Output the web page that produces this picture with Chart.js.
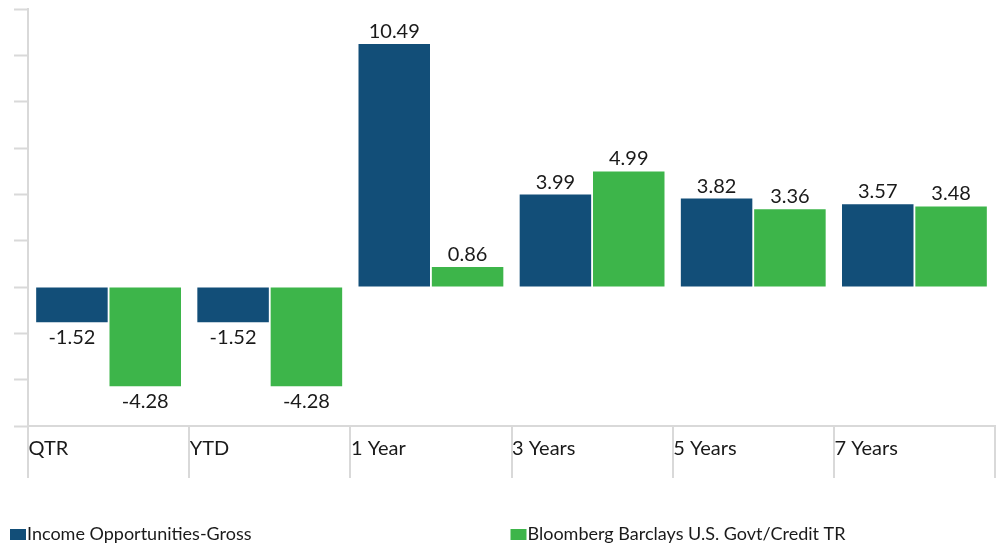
<!DOCTYPE html>
<html>
<head>
<meta charset="utf-8">
<script src="https://cdn.jsdelivr.net/npm/chart.js@4.4.1/dist/chart.umd.min.js"></script>
<style>
  html, body { margin: 0; padding: 0; background: #fff; }
  #wrap { position: relative; width: 1001px; height: 546px; }
</style>
</head>
<body>
<div id="wrap"><canvas id="c"></canvas></div>
<script>
const categories = ['QTR', 'YTD', '1 Year', '3 Years', '5 Years', '7 Years'];
const seriesNames = ['Income Opportunities-Gross', 'Bloomberg Barclays U.S. Govt/Credit TR'];
const incomeGross = [-1.52, -1.52, 10.49, 3.99, 3.82, 3.57];
const bloombergTR = [-4.28, -4.28, 0.86, 4.99, 3.36, 3.48];
const yMin = -6, yMax = 12, yStep = 2;

const seriesColors = ['#124E78', '#3DB54A'];
const FONT = 'Lato, "Open Sans", sans-serif';
const AXIS = '#d9d9d9';

const valueLabels = {
  id: 'valueLabels',
  afterDatasetsDraw(chart) {
    const ctx = chart.ctx;
    ctx.save();
    ctx.font = '20px ' + FONT;
    ctx.fillStyle = '#1a1a1a';
    ctx.textAlign = 'center';
    chart.data.datasets.forEach((ds, di) => {
      const meta = chart.getDatasetMeta(di);
      meta.data.forEach((bar, i) => {
        const v = ds.data[i];
        const txt = v.toFixed(2);
        if (v >= 0) {
          ctx.textBaseline = 'alphabetic';
          ctx.fillText(txt, bar.x, bar.y - 6);
        } else {
          ctx.textBaseline = 'top';
          ctx.fillText(txt, bar.x, bar.y + 5);
        }
      });
    });
    ctx.restore();
  }
};

// extends the category separators below the x axis, from the scale's own tick positions
const categorySeparators = {
  id: 'categorySeparators',
  afterDraw(chart) {
    const xs = chart.scales.x;
    const ctx = chart.ctx;
    const n = xs.ticks.length;
    const half = (xs.getPixelForTick(1) - xs.getPixelForTick(0)) / 2;
    ctx.save();
    ctx.strokeStyle = AXIS;
    ctx.lineWidth = 2;
    ctx.beginPath();
    for (let i = 0; i <= n; i++) {
      const x = Math.round((i < n ? xs.getPixelForTick(i) - half : xs.getPixelForTick(n - 1) + half));
      ctx.moveTo(x, chart.chartArea.bottom);
      ctx.lineTo(x, chart.chartArea.bottom + 52);
    }
    ctx.stroke();
    ctx.restore();
  }
};

const bottomLegend = {
  id: 'bottomLegend',
  afterDraw(chart) {
    const ctx = chart.ctx;
    ctx.save();
    ctx.font = '18px ' + FONT;
    ctx.textBaseline = 'middle';
    ctx.textAlign = 'left';
    const y = 534;
    chart.data.datasets.forEach((ds, i) => {
      const x = 10 + i * (chart.width / 2);
      ctx.fillStyle = ds.backgroundColor;
      ctx.fillRect(x, y - 5, 16, 11);
      ctx.fillStyle = '#1a1a1a';
      ctx.fillText(ds.label, x + 17, y);
    });
    ctx.restore();
  }
};

new Chart(document.getElementById('c'), {
  type: 'bar',
  data: {
    labels: categories,
    datasets: [
      { label: seriesNames[0], data: incomeGross, backgroundColor: seriesColors[0],
        categoryPercentage: 0.91, barPercentage: 0.975 },
      { label: seriesNames[1], data: bloombergTR, backgroundColor: seriesColors[1],
        categoryPercentage: 0.91, barPercentage: 0.975 }
    ]
  },
  options: {
    responsive: true,
    maintainAspectRatio: false,
    animation: false,
    layout: { padding: { left: 14, top: 9, right: 6, bottom: 82 } },
    plugins: { legend: { display: false }, tooltip: { enabled: false } },
    scales: {
      x: {
        offset: true,
        grid: { offset: true, drawOnChartArea: false, drawTicks: true, tickLength: 8,
                color: AXIS, tickColor: 'rgba(0,0,0,0)', lineWidth: 2, tickWidth: 2 },
        border: { display: true, color: AXIS, width: 2 },
        ticks: { align: 'start', labelOffset: -80, padding: 3, color: '#1a1a1a',
                 font: { family: FONT, size: 20 }, maxRotation: 0, autoSkip: false }
      },
      y: {
        min: yMin, max: yMax,
        grid: { drawOnChartArea: false, drawTicks: true, tickLength: 14,
                color: AXIS, tickColor: AXIS, tickWidth: 2 },
        border: { display: true, color: AXIS, width: 2 },
        ticks: { display: false, stepSize: yStep }
      }
    }
  },
  plugins: [valueLabels, categorySeparators, bottomLegend]
});
</script>
</body>
</html>
